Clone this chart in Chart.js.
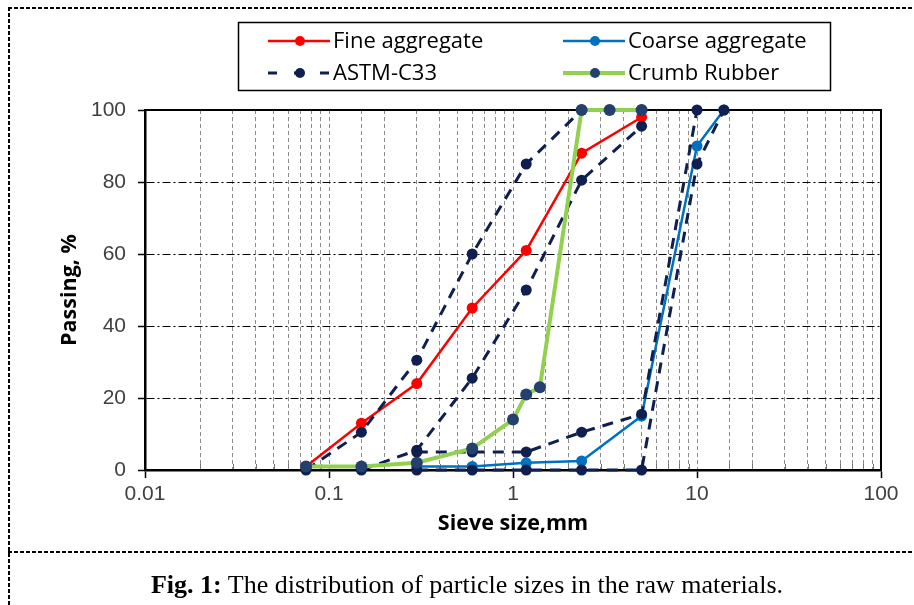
<!DOCTYPE html>
<html>
<head>
<meta charset="utf-8">
<script src="https://cdn.jsdelivr.net/npm/chart.js@4"></script>
<style>
  body { margin: 0; background: #fff; }
  #page { position: relative; width: 914px; height: 605px; overflow: hidden; }
  #chart { position: absolute; left: 0; top: 0; }
  .hdash { position: absolute; height: 1.5px; background: repeating-linear-gradient(to right, #000 0 4px, transparent 4px 6px); }
  .vdash { position: absolute; width: 1.5px; background: repeating-linear-gradient(to bottom, #000 0 4px, transparent 4px 6px); }
  #caption { position: absolute; left: 0; width: 934px; top: 570px; text-align: center;
             font-family: "Liberation Serif", "Times New Roman", serif; font-size: 26px; color: #000; white-space: nowrap; }
</style>
</head>
<body>
<div id="page">
  <canvas id="chart" width="914" height="550"></canvas>
  <div class="hdash" style="left:8px; top:7px; width:906px;"></div>
  <div class="vdash" style="left:8px; top:7px; height:598px;"></div>
  <div class="hdash" style="left:8px; top:551px; width:906px;"></div>
  <div id="caption"><b>Fig. 1:</b> The distribution of particle sizes in the raw materials.</div>
</div>
<script>
// sieve sizes (mm) and % passing
const fineSizes = [0.075, 0.15, 0.3, 0.6, 1.18, 2.36, 5];
const finePassing = [1, 13, 24, 45, 61, 88, 98];

const coarseSizes = [0.3, 0.6, 1.18, 2.36, 5, 10, 14];
const coarsePassing = [1, 1, 2, 2.5, 15, 90, 100];

const rubberSizes = [0.075, 0.15, 0.3, 0.6, 1.0, 1.18, 1.4, 2.36, 3.35, 5];
const rubberPassing = [1, 1, 2, 6, 14, 21, 23, 100, 100, 100];

// ASTM C33 limits: fine upper / lower, coarse upper / lower
const astmFineUpperSizes = [0.075, 0.15, 0.3, 0.6, 1.18, 2.36, 5];
const astmFineUpper = [0, 10.5, 30.5, 60, 85, 100, 100];
const astmFineLowerSizes = [0.15, 0.3, 0.6, 1.18, 2.36, 5];
const astmFineLower = [0, 5.5, 25.5, 50, 80.5, 95.5];
const astmCoarseUpperSizes = [0.3, 0.6, 1.18, 2.36, 5, 10];
const astmCoarseUpper = [5, 5, 5, 10.5, 15.5, 100];
const astmCoarseLowerSizes = [0.3, 0.6, 1.18, 2.36, 5, 10, 14];
const astmCoarseLower = [0, 0, 0, 0, 0, 85, 100];

const xTickLabels = ['0.01', '0.1', '1', '10', '100'];
const yTicks = [0, 20, 40, 60, 80, 100];

const FONT = '"Open Sans", "Liberation Sans", sans-serif';
const TICK_FONT = '"Liberation Sans", Arial, sans-serif';
const ASTM_COLOR = '#0E1F50';

function pts(xs, ys) {
    return xs.map((x, i) => ({ x: x, y: ys[i] }));
}

function astmSet(xs, ys, inLegend) {
    return {
        label: 'ASTM-C33',
        data: pts(xs, ys),
        borderColor: ASTM_COLOR,
        backgroundColor: ASTM_COLOR,
        borderWidth: 3,
        borderDash: [11, 8],
        pointRadius: 5.5,
        pointBorderWidth: 0,
        pointBackgroundColor: ASTM_COLOR,
        order: 1,
        showInLegend: inLegend
    };
}

function isDecade(v) {
    const e = Math.log10(v);
    return Math.abs(e - Math.round(e)) < 1e-6;
}

// legend box + plot frame + small inner ticks
const decorPlugin = {
    id: 'decor',
    beforeDatasetsDraw(chart) {
        const { ctx, chartArea: a } = chart;
        const xs = chart.scales.x;
        ctx.save();
        // minor ticks pointing inward on the x axis
        ctx.strokeStyle = '#777';
        ctx.lineWidth = 1;
        xs.ticks.forEach(t => {
            if (isDecade(t.value)) return;
            const px = Math.round(xs.getPixelForValue(t.value)) + 0.5;
            ctx.beginPath();
            ctx.moveTo(px, a.bottom);
            ctx.lineTo(px, a.bottom - 6);
            ctx.stroke();
        });
        // frame
        ctx.strokeStyle = '#000';
        ctx.lineWidth = 2;
        ctx.strokeRect(a.left, a.top, a.right - a.left, a.bottom - a.top);
        ctx.restore();
    },
    afterDraw(chart) {
        const ctx = chart.ctx;
        const items = chart.data.datasets.filter(d => d.showInLegend);
        const slots = [[270, 41], [565, 41], [270, 73], [565, 73]];
        ctx.save();
        ctx.strokeStyle = '#000';
        ctx.lineWidth = 1.5;
        ctx.strokeRect(238.5, 22.5, 592, 68);
        items.forEach((d, i) => {
            const [x, y] = slots[i];
            ctx.strokeStyle = d.borderColor;
            ctx.lineWidth = d.borderWidth;
            ctx.setLineDash(d.borderDash ? [9, 17] : []);
            ctx.beginPath();
            ctx.moveTo(x - 2, y);
            ctx.lineTo(x + 60, y);
            ctx.stroke();
            ctx.setLineDash([]);
            ctx.fillStyle = d.pointBackgroundColor;
            ctx.beginPath();
            ctx.arc(x + 30, y, 5, 0, Math.PI * 2);
            ctx.fill();
            ctx.fillStyle = '#000';
            ctx.font = '22px ' + FONT;
            ctx.textBaseline = 'middle';
            ctx.textAlign = 'left';
            ctx.fillText(d.label, x + 63, y + 1);
        });
        ctx.restore();
    }
};

new Chart(document.getElementById('chart'), {
    type: 'line',
    data: {
        datasets: [
            {
                label: 'Fine aggregate',
                data: pts(fineSizes, finePassing),
                borderColor: '#FF0000',
                backgroundColor: '#FF0000',
                borderWidth: 2.5,
                pointRadius: 5.5,
                pointBorderWidth: 0,
                pointBackgroundColor: '#FF0000',
                order: 2,
                showInLegend: true
            },
            {
                label: 'Coarse aggregate',
                data: pts(coarseSizes, coarsePassing),
                borderColor: '#0070C0',
                backgroundColor: '#0070C0',
                borderWidth: 2.5,
                pointRadius: 5.5,
                pointBorderWidth: 0,
                pointBackgroundColor: '#0070C0',
                order: 3,
                showInLegend: true
            },
            astmSet(astmFineUpperSizes, astmFineUpper, true),
            {
                label: 'Crumb Rubber',
                data: pts(rubberSizes, rubberPassing),
                borderColor: '#92D050',
                backgroundColor: '#92D050',
                borderWidth: 4,
                pointRadius: 6,
                pointBorderWidth: 0,
                pointBackgroundColor: '#24406E',
                order: 0,
                showInLegend: true
            },
            astmSet(astmFineLowerSizes, astmFineLower, false),
            astmSet(astmCoarseUpperSizes, astmCoarseUpper, false),
            astmSet(astmCoarseLowerSizes, astmCoarseLower, false)
        ]
    },
    options: {
        responsive: false,
        animation: false,
        clip: false,
        elements: { line: { tension: 0 } },
        layout: { padding: { left: 57, right: 33, top: 110, bottom: 13 } },
        scales: {
            x: {
                type: 'logarithmic',
                min: 0.01,
                max: 100,
                afterFit: s => { s.height = 67; },
                border: { display: true, color: '#000', width: 2.5, dash: [4, 3] },
                grid: {
                    color: '#8C8C8C',
                    lineWidth: 1,
                    drawTicks: true,
                    tickLength: 8,
                    tickWidth: 1.5,
                    tickBorderDash: [],
                    tickColor: c => (c.tick && isDecade(c.tick.value)) ? '#000' : 'rgba(0,0,0,0)'
                },
                ticks: {
                    autoSkip: false,
                    maxRotation: 0,
                    padding: 4,
                    color: '#404040',
                    font: { family: TICK_FONT, size: 21 },
                    callback: v => isDecade(v) ? xTickLabels[Math.round(Math.log10(v)) + 2] : ''
                },
                title: {
                    display: true,
                    text: 'Sieve size,mm',
                    color: '#000',
                    padding: 0,
                    font: { family: FONT, size: 21.5, weight: 'bold' }
                }
            },
            y: {
                min: 0,
                max: 100,
                afterFit: s => { s.width = 88; },
                afterBuildTicks: s => { s.ticks = yTicks.map(v => ({ value: v })); },
                border: { display: true, color: '#000', width: 2.5, dash: [8, 3, 2, 3] },
                grid: {
                    color: '#000',
                    lineWidth: 1,
                    drawTicks: true,
                    tickLength: 7,
                    tickWidth: 1.5,
                    tickBorderDash: [],
                    tickColor: '#000'
                },
                ticks: {
                    padding: 12,
                    color: '#404040',
                    font: { family: TICK_FONT, size: 21 }
                },
                title: {
                    display: true,
                    text: 'Passing, %',
                    color: '#000',
                    padding: 0,
                    font: { family: FONT, size: 21.5, weight: 'bold' }
                }
            }
        },
        plugins: {
            legend: { display: false },
            tooltip: { enabled: false }
        }
    },
    plugins: [decorPlugin]
});
</script>
</body>
</html>
